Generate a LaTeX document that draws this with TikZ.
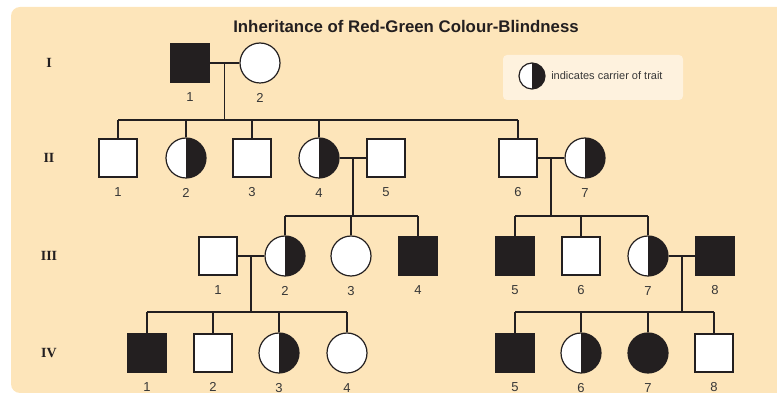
\documentclass[tikz,border=0pt]{standalone}
\usepackage{fontspec}
\setmainfont{Liberation Serif}
\setsansfont{Liberation Sans}
\usepackage{tikz}
\usetikzlibrary{calc,positioning}
\definecolor{paper}{RGB}{253,229,186}
\definecolor{keybox}{RGB}{254,242,222}
\definecolor{ink}{RGB}{35,31,32}
\definecolor{numgray}{RGB}{55,55,55}

\tikzset{
  person/.style={draw=ink, line width=1.2pt, fill=white, inner sep=0pt},
  male/.style={person, rectangle, minimum size=38pt},
  female/.style={person, circle, minimum size=40pt},
  cbmale/.style={male, fill=ink},
  cbfemale/.style={female, fill=ink},
  carrier/.style={female, path picture={
      \fill[ink] (path picture bounding box.north) rectangle (path picture bounding box.south east);}},
  num/.style={font=\sffamily\fontsize{13}{13}\selectfont, text=numgray, inner sep=0pt},
  gen/.style={font=\rmfamily\bfseries\fontsize{14}{14}\selectfont, text=ink},
  line/.style={draw=ink, line width=1.2pt},
}

\begin{document}
\begin{tikzpicture}[x=1pt, y=-1pt]

\useasboundingbox (0,0) rectangle (777,395);
\fill[paper, rounded corners=9pt] (11,7) rectangle (800,393);

% Title
\node[font=\sffamily\bfseries\fontsize{16.8}{16.8}\selectfont, text=ink] (title) at (406,26)
  {Inheritance of Red-Green Colour-Blindness};

% Key
\node[fill=keybox, rounded corners=4pt, minimum width=180pt, minimum height=45pt] (keybg) at (593,77.5) {};
\node[carrier, minimum size=26pt] (keysym) at (532,76) {};
\node[right=5.5pt of keysym, font=\sffamily\fontsize{11}{11}\selectfont, text=numgray, inner sep=0pt] (keytext)
  {indicates carrier of trait};

% Generation numerals
\foreach \g/\y in {I/63, II/158, III/256, IV/353} {
    \node[gen] (gen\g) at (49,\y) {\g};
}

% Generation I
\node[cbmale] (i1) at (190,63) {};
\node[female] (i2) at (260,63) {};
\node[num, below=10pt of i1] (i1-n) {1};
\node[num, below=10pt of i2] (i2-n) {2};

% Generation II
\foreach \s/\x [count=\k] in {male/118, carrier/186, male/252, carrier/319, male/386, male/518, carrier/585} {
    \node[\s] (ii\k) at (\x,158) {};
    \node[num, below=10pt of ii\k] (ii\k-n) {\k};
}

% Generation III
\foreach \s/\x [count=\k] in {male/218, carrier/285, female/351, cbmale/418, cbmale/515, male/581, carrier/648, cbmale/715} {
    \node[\s] (iii\k) at (\x,256) {};
    \node[num, below=10pt of iii\k] (iii\k-n) {\k};
}

% Generation IV
\foreach \s/\x [count=\k] in {cbmale/147, male/213, carrier/279, female/347, cbmale/515, carrier/581, cbfemale/648, male/714} {
    \node[\s] (iv\k) at (\x,353) {};
    \node[num, below=10pt of iv\k] (iv\k-n) {\k};
}

% Matings: midpoint of the marriage line, then down to the sibship line
\coordinate (m1) at ($(i1.east)!0.5!(i2.west)$);
\coordinate (s1) at ($(m1)+(0,57)$);
\coordinate (m2) at ($(ii4.east)!0.5!(ii5.west)$);
\coordinate (s2) at ($(m2)+(0,58)$);
\coordinate (m3) at ($(ii6.east)!0.5!(ii7.west)$);
\coordinate (s3) at ($(m3)+(0,58)$);
\coordinate (m4) at ($(iii1.east)!0.5!(iii2.west)$);
\coordinate (s4) at ($(m4)+(0,56)$);
\coordinate (m5) at ($(iii7.east)!0.5!(iii8.west)$);
\coordinate (s5) at ($(m5)+(0,56)$);

\draw[line] (i1) -- (i2);
\draw[line] (ii4) -- (ii5);
\draw[line] (ii6) -- (ii7);
\draw[line] (iii1) -- (iii2);
\draw[line] (iii7) -- (iii8);

\foreach \m/\s in {m1/s1, m2/s2, m3/s3, m4/s4, m5/s5} {
    \draw[line] (\m) -- (\s);
}

% Sibship lines
\draw[line] (ii1.north |- s1) -- (ii6.north |- s1);
\draw[line] (iii2.north |- s2) -- (iii4.north |- s2);
\draw[line] (iii5.north |- s3) -- (iii7.north |- s3);
\draw[line] (iv1.north |- s4) -- (iv4.north |- s4);
\draw[line] (iv5.north |- s5) -- (iv8.north |- s5);

% Children hang from their sibship line
\foreach \c/\s in {ii1/s1, ii2/s1, ii3/s1, ii4/s1, ii6/s1,
                   iii2/s2, iii3/s2, iii4/s2,
                   iii5/s3, iii6/s3, iii7/s3,
                   iv1/s4, iv2/s4, iv3/s4, iv4/s4,
                   iv5/s5, iv6/s5, iv7/s5, iv8/s5} {
    \draw[line] (\c) -- (\c.north |- \s);
}

\end{tikzpicture}
\end{document}
